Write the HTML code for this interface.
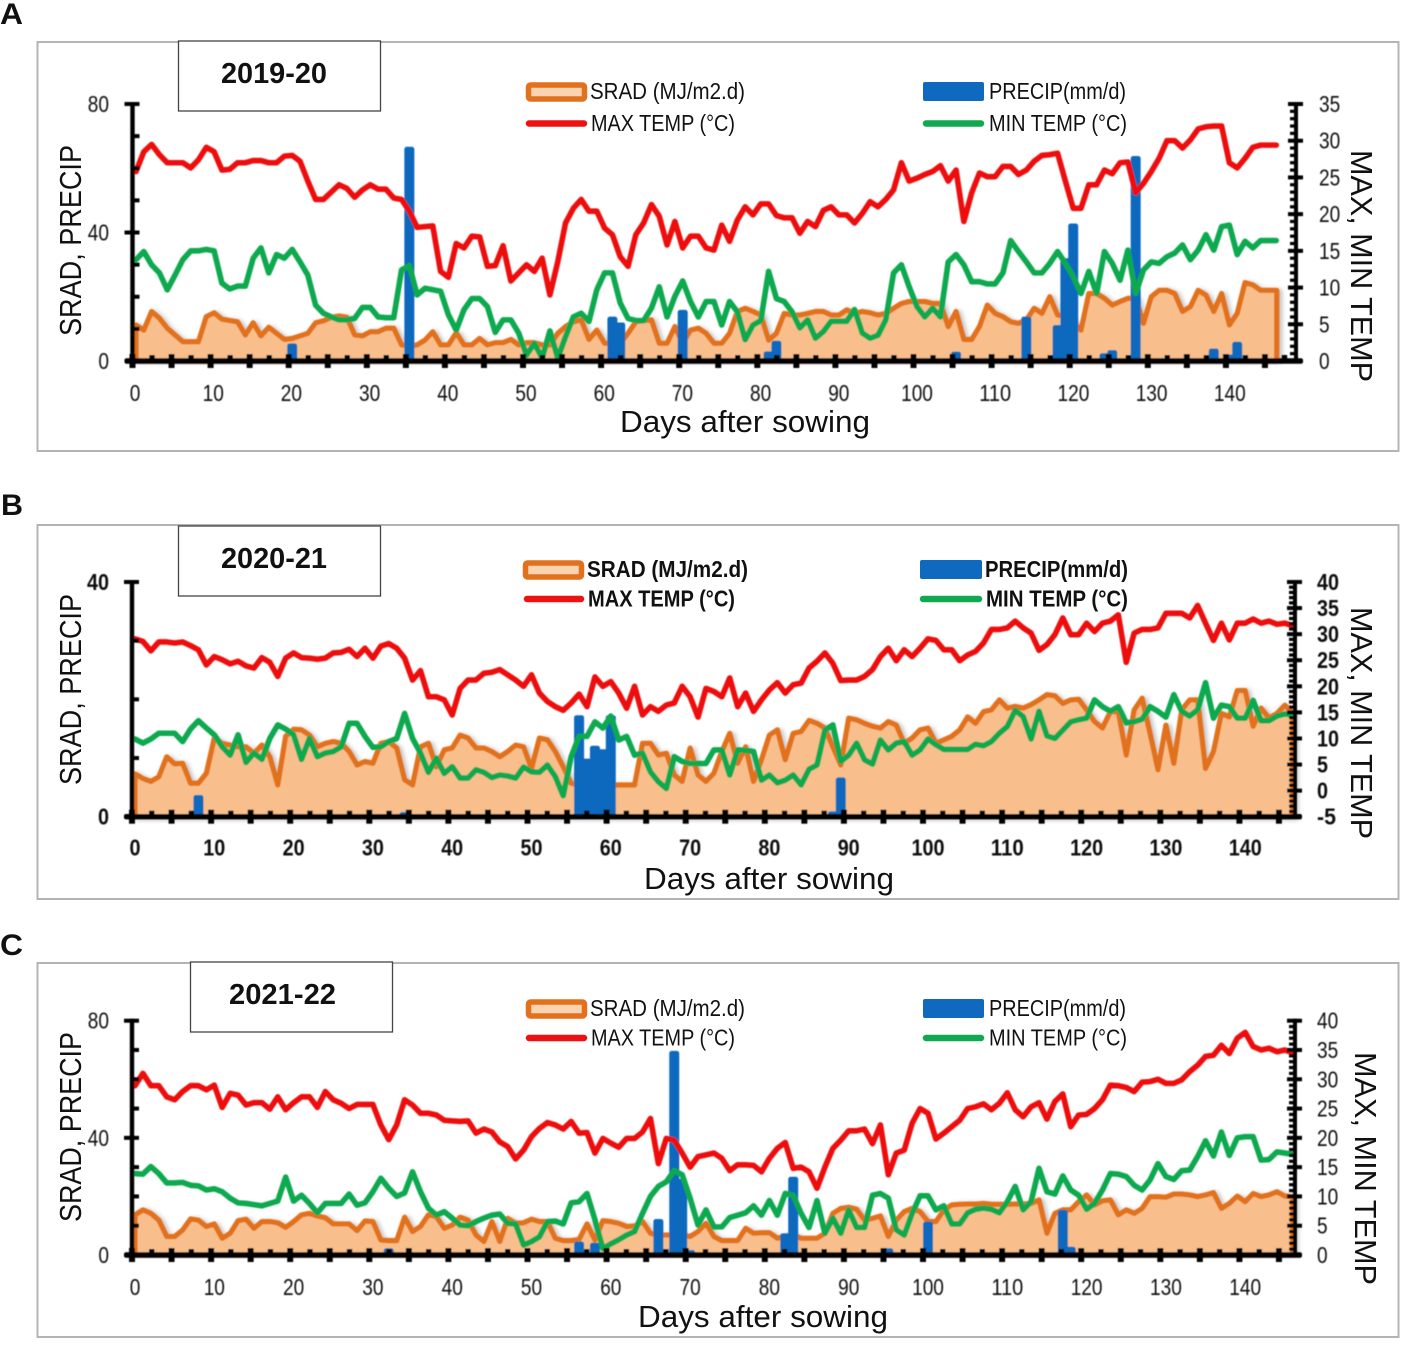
<!DOCTYPE html>
<html lang="en">
<head>
<meta charset="utf-8">
<title>Weather during the growing seasons 2019-22</title>
<style>
html,body{margin:0;padding:0;background:#fff;}
svg{display:block;font-family:"Liberation Sans",Arial,sans-serif;fill:#111;}
</style>
</head>
<body>
<svg id="fig" width="1403" height="1347" viewBox="0 0 1403 1347" xmlns="http://www.w3.org/2000/svg">
<defs>
<filter id="soft" x="-2%" y="-2%" width="104%" height="104%"><feGaussianBlur stdDeviation="0.45"/></filter>
<filter id="areaShadow" x="-2%" y="-5%" width="104%" height="110%"><feDropShadow dx="3" dy="1" stdDeviation="2" flood-color="#555" flood-opacity="0.35"/></filter>
</defs>

<g id="panel-a">
<text x="0" y="24" font-size="30" font-weight="bold" textLength="23" lengthAdjust="spacingAndGlyphs">A</text>
<rect x="37.5" y="42" width="1361" height="409" fill="#fff" stroke="#b4b4b4" stroke-width="2"/>
<g id="plot-a" filter="url(#soft)"></g>
<rect x="178.5" y="41" width="202" height="70" fill="#fff" stroke="#444" stroke-width="1.3"/>
<text x="221" y="83" font-size="29" font-weight="bold" textLength="106" lengthAdjust="spacingAndGlyphs">2019-20</text>
<g>
<rect x="528.5" y="85" width="56" height="14" rx="2" fill="#FAD3B0" stroke="#E2711D" stroke-width="5.5"/>
<text x="590" y="99" font-size="23" textLength="155" lengthAdjust="spacingAndGlyphs">SRAD (MJ/m2.d)</text>
<line x1="529" y1="123.5" x2="584" y2="123.5" stroke="#EE1111" stroke-width="6.5" stroke-linecap="round"/>
<text x="591" y="131" font-size="23" textLength="144" lengthAdjust="spacingAndGlyphs">MAX TEMP (°C)</text>
<rect x="923" y="82" width="61" height="19" rx="2" fill="#0F69BE"/>
<text x="989" y="99" font-size="23" textLength="137" lengthAdjust="spacingAndGlyphs">PRECIP(mm/d)</text>
<line x1="926" y1="123.5" x2="981" y2="123.5" stroke="#10A94F" stroke-width="6.5" stroke-linecap="round"/>
<text x="989" y="131" font-size="23" textLength="138" lengthAdjust="spacingAndGlyphs">MIN TEMP (°C)</text>
</g>
<text transform="translate(81,336) rotate(-90)" font-size="31" textLength="191" lengthAdjust="spacingAndGlyphs">SRAD, PRECIP</text>
<text transform="translate(1351,150) rotate(90)" font-size="31" textLength="232" lengthAdjust="spacingAndGlyphs">MAX, MIN TEMP</text>
<text x="620" y="432" font-size="31" textLength="250" lengthAdjust="spacingAndGlyphs">Days after sowing</text>
</g>

<g id="panel-b">
<text x="1" y="515" font-size="30" font-weight="bold" textLength="22" lengthAdjust="spacingAndGlyphs">B</text>
<rect x="37.5" y="525" width="1361" height="374" fill="#fff" stroke="#b4b4b4" stroke-width="2"/>
<g id="plot-b" filter="url(#soft)"></g>
<rect x="178.5" y="526" width="202" height="70" fill="#fff" stroke="#444" stroke-width="1.3"/>
<text x="221" y="568" font-size="29" font-weight="bold" textLength="106" lengthAdjust="spacingAndGlyphs">2020-21</text>
<g>
<rect x="525.5" y="563" width="56" height="14" rx="2" fill="#FAD3B0" stroke="#E2711D" stroke-width="5.5"/>
<text x="587" y="577" font-size="23" font-weight="bold" textLength="161" lengthAdjust="spacingAndGlyphs">SRAD (MJ/m2.d)</text>
<line x1="527" y1="599" x2="581" y2="599" stroke="#EE1111" stroke-width="6.5" stroke-linecap="round"/>
<text x="588" y="606.5" font-size="23" font-weight="bold" textLength="147" lengthAdjust="spacingAndGlyphs">MAX TEMP (°C)</text>
<rect x="920" y="560" width="62" height="19" rx="2" fill="#0F69BE"/>
<text x="985" y="577" font-size="23" font-weight="bold" textLength="143" lengthAdjust="spacingAndGlyphs">PRECIP(mm/d)</text>
<line x1="923" y1="599" x2="979" y2="599" stroke="#10A94F" stroke-width="6.5" stroke-linecap="round"/>
<text x="986" y="606.5" font-size="23" font-weight="bold" textLength="142" lengthAdjust="spacingAndGlyphs">MIN TEMP (°C)</text>
</g>
<text transform="translate(81,785) rotate(-90)" font-size="31" textLength="191" lengthAdjust="spacingAndGlyphs">SRAD, PRECIP</text>
<text transform="translate(1351,607) rotate(90)" font-size="31" textLength="232" lengthAdjust="spacingAndGlyphs">MAX, MIN TEMP</text>
<text x="644" y="889" font-size="31" textLength="250" lengthAdjust="spacingAndGlyphs">Days after sowing</text>
</g>

<g id="panel-c">
<text x="0" y="955" font-size="30" font-weight="bold" textLength="23" lengthAdjust="spacingAndGlyphs">C</text>
<rect x="37.5" y="963" width="1361" height="374" fill="#fff" stroke="#b4b4b4" stroke-width="2"/>
<g id="plot-c" filter="url(#soft)"></g>
<rect x="190.5" y="962" width="202" height="70" fill="#fff" stroke="#444" stroke-width="1.3"/>
<text x="229" y="1004" font-size="29" font-weight="bold" textLength="107" lengthAdjust="spacingAndGlyphs">2021-22</text>
<g>
<rect x="528.5" y="1002" width="56" height="14" rx="2" fill="#FAD3B0" stroke="#E2711D" stroke-width="5.5"/>
<text x="590" y="1016" font-size="23" textLength="155" lengthAdjust="spacingAndGlyphs">SRAD (MJ/m2.d)</text>
<line x1="529" y1="1038" x2="584" y2="1038" stroke="#EE1111" stroke-width="6.5" stroke-linecap="round"/>
<text x="591" y="1045.5" font-size="23" textLength="144" lengthAdjust="spacingAndGlyphs">MAX TEMP (°C)</text>
<rect x="923" y="999" width="61" height="19" rx="2" fill="#0F69BE"/>
<text x="989" y="1016" font-size="23" textLength="137" lengthAdjust="spacingAndGlyphs">PRECIP(mm/d)</text>
<line x1="926" y1="1038" x2="981" y2="1038" stroke="#10A94F" stroke-width="6.5" stroke-linecap="round"/>
<text x="989" y="1045.5" font-size="23" textLength="138" lengthAdjust="spacingAndGlyphs">MIN TEMP (°C)</text>
</g>
<text transform="translate(81,1222) rotate(-90)" font-size="31" textLength="190" lengthAdjust="spacingAndGlyphs">SRAD, PRECIP</text>
<text transform="translate(1355,1052) rotate(90)" font-size="31" textLength="233" lengthAdjust="spacingAndGlyphs">MAX, MIN TEMP</text>
<text x="638" y="1327" font-size="31" textLength="250" lengthAdjust="spacingAndGlyphs">Days after sowing</text>
</g>
</svg>

<script>
// ---------- shared tick labels ----------
const xTickLabels = [0,10,20,30,40,50,60,70,80,90,100,110,120,130,140];

// ---------- 2019-20 ----------
const sradA = [
11.2,9.6,15.4,13.3,10.2,8.1,6,6,6,13.8,
15,13,12.6,12.2,8.1,11.9,7.8,10.5,8.6,6.7,
7,7.8,8.6,11.9,12.5,13.6,14,13.6,8.1,7.8,
9.1,9.1,10.2,10.2,5,4.7,5,6.5,9.1,5,
5,8.8,5,5,7,5,5.7,5.7,6.7,5,
5.7,5.7,5,5,8.6,10.7,12.2,12.8,6.7,9.6,
5.5,5.5,5.5,8.6,12.2,12.6,12.8,5.5,5.5,10.7,
5.5,9.6,10.2,8.6,5.5,5.5,8.6,15.4,16.4,15.4,
14.3,6.5,8.6,14.8,14.3,14.3,14.8,15.4,15.4,14.3,
14.3,15.9,14.8,15.4,15,14.3,14.8,16.4,17.9,18.5,
18.5,18.5,17.9,17.9,10.7,15.4,6.7,6.7,10.7,17.4,
14.8,13.8,12.2,11.7,12.8,16.4,14.8,20,14.3,14,
12,9.6,21,21,19.5,17.4,18.5,19.5,19.5,11.7,
20,22,22,21,15.4,16.9,22,20.5,15.4,21,
11.2,14.8,24.4,23.7,22,22,22];
const maxTempA = [
25.8,28.5,29.5,28.1,27,27,27,26.3,27.4,29.1,
28.5,26,26.1,27,27,27.3,27.3,27,27,27.9,
28,27.2,24.5,22,22,23,24,23.5,22.3,23.3,
24,23.4,23.4,22.2,22,20.4,18.2,18.3,18.4,12.2,
11.4,16,15.4,17,16.9,12.9,13,15.7,10.9,12,
13.1,12.2,14,9,13.5,18.8,20.8,22,20.4,20.4,
18.1,17.2,14.2,12.9,17.2,18.8,21.3,19.7,15.8,19,
15.4,17,17,15.4,15.1,18.5,16.3,19.2,21,19.9,
21.4,21.4,19.8,19.5,19.5,17.4,19,18.3,20.5,21,
19.9,19.9,18.8,20.1,21.7,21,22,23.3,27,24.5,
24.9,25.4,25.8,26.6,24.5,26,19,22.9,25.6,25.1,
25.1,26.5,26.5,25.4,26,27.2,28,28.1,28.3,24.5,
20.8,20.8,24,24,26,25.5,27,27.1,22.9,24.2,
25.8,27.6,30,30,29,30.1,31.6,31.9,32,32,
27,26.3,27.6,29.1,29.4,29.4,29.4];
const minTempA = [
13.8,14.9,13.1,12,9.7,11.7,13.8,15,15,15.2,
15,10.6,9.8,10.2,10.2,14,15.4,12,14.5,14,
15.2,13.5,11.7,7.6,6.5,6,5.6,5.6,5.8,7.3,
7.3,6,5.9,5.9,12.4,13,9,9.9,9.7,9.5,
6.3,4.2,7,8.5,8.5,7.4,3.9,5.6,5.6,3.8,
0.8,2.4,0.4,4.1,0.4,3.3,6,6.5,5.4,9.7,
12,12,7.9,5.8,5.5,5.5,7.2,10.1,6,8.8,
10.9,8.1,6,8.1,8.1,4.9,8.1,6.7,2.9,4.9,
5.5,12.2,8.5,8.1,6.7,4.5,5.6,3.1,4,5.4,
5.4,5.4,7,3.8,3.1,3.5,5.6,12,13.1,10.1,
7.4,6,7.2,6,13.5,14.5,13.1,10.8,10.8,10.5,
10.5,12,16.4,14.9,13.5,12,12,13.3,14.9,13.3,
11.5,9.2,12.2,9.2,14.9,13.3,11,15.1,9.2,12.4,
13.5,13.3,14.2,14.7,15.8,13.8,15.1,17.2,15.1,18.3,
18.5,14.5,16.3,15.4,16.4,16.4,16.4];
const precipDaysA = [20,35,61,62,70,81,82,105,114,118,119,120,124,125,128,138,140,141];
const precipA = [5.5,66.7,13.8,12,15.9,3,6.3,2.9,13.8,11.2,32,42.8,2.4,3.4,63.8,3.9,2,6];
const leftTicksA = [0,40,80];
const rightTicksA = [0,5,10,15,20,25,30,35];

// ---------- 2020-21 ----------
const sradB = [
7.3,6.5,6,6.8,10.2,9,9.1,5.7,5.7,7.4,
13.4,12.5,12.2,11.9,11.9,10.8,12.2,10.2,5.4,13.7,
14.9,14.8,13.9,11.9,12.5,12.8,12.5,11.1,8.8,9.4,
9.1,12.5,12.8,11.7,6.3,5.4,11.9,12.5,8.5,11.4,
11.7,13.9,13.4,11.7,11.7,11.1,10.2,11.1,12.2,11.9,
8.2,13.4,13.1,11.1,8.5,5.7,5.4,5.4,5.4,5.4,
5.4,5.4,5.4,5.4,12.5,12.5,10.5,10.8,7.1,6,
11.7,7.1,6,7.4,11.1,14.2,9.1,11.9,6,9.7,
13.9,14.8,9.7,14.2,14.5,16.4,15.9,15.1,11.9,8.8,
16.8,16.5,15.9,15.4,15.1,16.2,15.6,12.5,13.4,14.8,
15.1,12.5,13.1,13.7,14.8,17,15.9,17.9,18.2,19.9,
18.5,18.8,18.5,19.1,19.9,20.8,20.6,19.3,19.9,20,
18.2,16.2,15.1,17.9,17.9,10.5,18.2,20.2,14.2,8,
15.6,9.1,18.2,19.9,19.9,8.2,11.1,17.6,17,21.5,
21.5,15.4,18.5,16.8,17.6,19,17.6];
const maxTempB = [
29.1,28.6,26.8,28.5,28.5,28.3,28.5,27.8,27,24.1,
25.7,25.1,24.3,24.8,23.9,23.5,25.5,24.6,21.9,25.4,
26.4,25.5,25.4,25.2,25.4,26.4,26.5,27.1,25.7,27.3,
25.4,27.7,28.2,27.3,25.4,21.2,23,18,18,17.4,
14.5,19.6,21.2,21.2,22.5,22.7,23.2,22.2,21.2,20,
22.2,18.7,17.1,16.1,15.4,16.8,18.5,16.1,21.8,20,
20.9,18.7,15.8,20,14.5,16.1,15.2,16.4,16.8,20,
18,14.1,19.6,19,18,21.6,16.1,18.7,15.2,17.4,
19.3,20.7,18.7,20.3,20.6,23.5,24.8,26.4,24.4,21.1,
21.2,21.2,21.9,23.2,25.7,27.3,24.9,27,25.7,27.3,
29.1,28.8,27,27,24.9,26,26.7,28.3,30.9,30.9,
31.2,32.5,31.2,30.2,26.9,28,29.9,33.1,29.9,29.9,
32.1,30.5,32.1,32.5,33.7,24.6,30.2,30.9,30.9,31.2,
34,34,34,33.1,35.5,32.1,28.8,32.1,28.9,32.1,
32.1,32.9,32.1,32.5,31.9,32.1,31.6];
const minTempB = [
9.9,9.1,9.9,11,11,11,9.4,11.8,13.4,12,
10.7,8.4,6.8,10.7,5.4,7.2,6,10,12.6,11.8,
10.7,6,10,6.5,7.2,7.5,8.4,12.9,12.9,10.4,
8.3,8.4,9.4,10,14.8,10,7.2,3.5,6.2,3.3,
4.6,2.4,2.4,4,3.5,2.5,3,2.8,2.4,4.5,
3.6,3.5,4.9,2.7,-1,6.5,10.4,10.4,13.2,12,
14.3,9.7,10.4,6.8,7.2,3.6,1.7,0.4,6.5,5.6,
5.2,5.2,5.2,7.8,7.8,3,7.8,7.7,7.5,2,
3,1.5,2,3,1.1,4.1,4.9,11.6,12.6,5.6,
6.8,9.1,5.9,5.1,9.7,7.8,9.1,9.4,6.8,7.8,
9.9,8.8,7.9,7.9,7.9,7.9,8.9,8.6,9.4,11,
12.3,15.4,14.2,9.9,15.2,10.5,10,11.6,13.2,13.6,
13.9,17.4,16.1,15.2,16.1,13,13.2,13.7,16.1,15.2,
14.1,18.4,15.2,14.3,15.5,20.7,13.9,16.4,16.1,13.9,
13.9,17.3,13.4,13.4,14.3,14.7,14.5];
const precipDaysB = [8,34,56,57,58,59,60,88,89];
const precipB = [3.7,0.8,17.3,9.9,12.1,11.5,17.3,0.9,6.7];
const leftTicksB = [0,40];
const rightTicksB = [-5,0,5,10,15,20,25,30,35,40];

// ---------- 2021-22 ----------
const sradC = [
13.7,15.4,14.2,11.9,6.3,6.3,8.5,12.3,11.9,9.7,
10.6,5.7,7.4,11.7,12.2,9.1,11.4,11.4,11,9.4,
11.4,13.7,14.2,13.3,12.7,10.6,10.6,10.6,8.3,11.6,
11.4,5.1,4.9,4.9,12.9,8,9.7,13.7,13.1,9.1,
10.2,12.9,11.9,6.8,4.6,11.4,4.6,12.5,10.8,11,
12.2,11.4,11.4,5.7,4.9,4.9,5.3,10.6,5.1,11.7,
11.4,10.8,9.7,9.9,11.4,7.4,6.8,6.8,6.8,6.8,
6.3,8,10.8,6.3,4.9,4.9,4.9,9.1,7.4,7.6,
7.6,5.7,6.5,6.8,5.7,5.7,5.7,7.4,14.2,15.9,
16.3,15.6,11.9,12.5,13.3,6.3,11.9,14.8,15.9,14.8,
11.4,11.4,15.4,17.1,17.3,17.4,17.4,17.6,17.3,17.3,
17.3,17.4,17.4,17.6,18.8,7.4,14.2,15.4,15.4,18.2,
20.5,17.1,18.5,18.8,13.7,15.4,14.2,15.9,19.9,19.9,
19.7,20.8,20.8,20.5,19.9,20.5,21.3,15.9,17.6,20.1,
18.2,21,19.9,20.5,21.6,20.1,19.9];
const maxTempC = [
28.9,31,28.9,28.9,27,26.5,27.9,28.9,28.9,28.2,
29,25.2,27.6,27.3,25.6,26,26,24.9,27,24.8,
26,27,27,25.2,27.9,26.5,25.9,25,25.7,25.7,
25.7,22.2,19.7,22.2,26.5,25.6,24.2,24.2,23.9,23,
22.9,22.8,22.9,20.8,21.5,21,19.3,18.5,16.4,17.9,
20.2,21.6,22.6,22.2,21.5,22.8,20.8,20.9,17.4,19.9,
19.1,18.4,19.9,19.9,21,23.3,15.6,19.9,19.6,17.4,
15,16.8,17.1,17.4,16.5,14.4,15.4,15.4,15.3,14.2,
16.5,18.2,19.2,14.8,15,14.2,11.4,15,18.2,19.6,
21.2,21.2,21.5,19,22.2,13.7,17.4,17.9,22.5,25,
24.2,19.8,20.8,21.9,23,25,25.3,25.8,24.8,25.9,
27.7,24.8,23.6,25.3,26,23.2,26.2,27.5,21.9,23.9,
24,25,26.5,29,28.9,28.6,27.9,29.5,29.6,30,
29.3,29.3,29.9,31.3,32.4,33.9,34.1,35.8,34.4,37,
38,35.6,35,35.3,34.7,35,34.5];
const minTempC = [
13.9,13.8,15.1,13.9,12.3,12.3,12.4,11.9,11.8,11.1,
11.3,10.8,9.7,8.9,8.8,8.6,8.4,8.8,9.2,13.3,
9.2,10.2,8.8,7.2,8.8,8.8,8.8,10.4,8.5,8.9,
10.8,13.1,11.4,10,10.6,14.2,10.8,8,6.8,7.4,
6.3,5.1,5,5.7,6.3,6.8,7,5.4,5.3,1.7,
2.3,3.1,5.7,5.8,5.3,8.9,9.1,10.5,6,1.1,
1.9,2.6,3.4,4,7.1,10,11.7,12.5,14.4,13.7,
9.7,5.1,7.7,4.8,4.8,6.4,6.8,7.2,8.4,6.8,
9.3,6.8,10.5,10.2,7.1,4.7,9.3,3.7,6.3,3.7,
7.7,4.7,4.7,10.2,10.5,9.7,4.3,3.4,7.1,10.1,
10.1,7.7,8.4,5.3,5.3,7.2,7.8,8,7.8,7.2,
9.1,11.7,7.7,9.1,14.8,10.8,10.4,13.5,11.1,10.2,
7.8,8.8,11.1,13.9,13.8,13.4,11.9,11.1,12.8,15.6,
13.4,12.9,14.4,14.5,16.8,19.5,16.9,21,17,20,
20.2,20.2,16.2,16.3,17.6,17.4,17.2];
const precipDaysC = [32,56,58,66,68,69,70,82,83,95,100,117,118];
const precipC = [2.3,4.6,4.2,12.3,69.7,26,1.7,7.4,26.7,2.3,11.4,15.4,2.8];
const leftTicksC = [0,40,80];
const rightTicksC = [0,5,10,15,20,25,30,35,40];

const NS = 'http://www.w3.org/2000/svg';
function mk(parent, tag, attrs, txt) {
  const el = document.createElementNS(NS, tag);
  for (const k in attrs) el.setAttribute(k, attrs[k]);
  if (txt !== undefined) el.textContent = txt;
  parent.appendChild(el);
  return el;
}

function drawPanel(id, geo, srad, maxTemp, minTemp, precipDays, precip, leftTicks, rightTicks, bold) {
  const g = document.getElementById(id);
  const leftMax = leftTicks[leftTicks.length - 1];
  const rightMin = rightTicks[0];
  const rightMax = rightTicks[rightTicks.length - 1];
  const plotH = geo.y0 - geo.yTop;
  const x = d => geo.x0 + geo.dx * d;
  const yL = v => geo.y0 - v / leftMax * plotH;
  const yR = v => geo.y0 - (v - rightMin) / (rightMax - rightMin) * plotH;
  const weight = bold ? 'bold' : 'normal';
  const digitWidth = bold ? 11 : 10.6;
  const labelAttrs = v => ({'font-size': 23, 'font-weight': weight, textLength: String(v).length * digitWidth - (v < 0 ? 3 : 0), lengthAdjust: 'spacingAndGlyphs'});

  // SRAD area
  const last = srad.length - 1;
  let areaPts = x(0) + ',' + yL(0) + ' ';
  srad.forEach((v, i) => { areaPts += x(i) + ',' + yL(v) + ' '; });
  areaPts += (x(last) + geo.areaTail) + ',' + yL(srad[last]) + ' ' + (x(last) + geo.areaTail) + ',' + yL(0);
  const area = mk(g, 'polygon', {points: areaPts, fill: '#F8BF8C', stroke: '#E2711D', 'stroke-width': 5.2, 'stroke-linejoin': 'round', filter: 'url(#areaShadow)'});
  
  

  // Precipitation bars
  precipDays.forEach((d, i) => {
    const top = yL(precip[i]);
    const bar = mk(g, 'rect', {x: x(d) - 5, y: top, width: 10, height: geo.y0 - top + 1, rx: 2.5, fill: '#0F69BE'});
    
    
  });

  // Temperature lines
  const linePts = arr => arr.map((v, i) => x(i) + ',' + yR(v)).join(' ');
  const minLine = mk(g, 'polyline', {points: linePts(minTemp), fill: 'none', stroke: '#10A94F', 'stroke-width': 5.6, 'stroke-linejoin': 'round', 'stroke-linecap': 'round'});
  
  
  const maxLine = mk(g, 'polyline', {points: linePts(maxTemp), fill: 'none', stroke: '#EE1111', 'stroke-width': 5.6, 'stroke-linejoin': 'round', 'stroke-linecap': 'round'});
  
  
  if (id !== 'plot-a') {
    g.insertBefore(maxLine, minLine);
  }

  // Axes
  const axes = mk(g, 'g', {fill: '#000', stroke: '#000'});
  
  
  const leftAxis = mk(axes, 'line', {x1: geo.axL, y1: geo.yTop - 2, x2: geo.axL, y2: geo.y0 + 2, 'stroke-width': 4.4});
  
  
  const rightAxis = mk(axes, 'line', {x1: geo.axR, y1: geo.yTop - 2, x2: geo.axR, y2: geo.y0 + 2, 'stroke-width': 4});
  
  
  const bottomAxis = mk(axes, 'line', {x1: geo.axL - 7, y1: geo.y0, x2: geo.axR + 6, y2: geo.y0, 'stroke-width': 5.4});
  
  

  // X ticks (major every 5 days, minor half-way between)
  const xEnd = (geo.axR - geo.axL - 6) / geo.tickDx;
  for (let d = 0; d <= xEnd; d += 2.5) {
    const tx = geo.axL + geo.tickDx * d;
    const major = d % 5 === 0;
    mk(axes, 'line', {x1: tx, y1: major ? geo.y0 - 7 : geo.y0 - 6, x2: tx, y2: major ? geo.y0 + 7 : geo.y0, 'stroke-width': major ? 6 : 5.4});
  }
  xTickLabels.forEach(v => {
    const t = mk(g, 'text', Object.assign({x: geo.labelX0 + geo.labelDx * v, y: geo.y0 + geo.labelOffset, 'text-anchor': 'middle'}, labelAttrs(v)), v);
    
    
  });

  // Left ticks
  for (let v = 0; v <= leftMax; v += 10) {
    const major = leftTicks.includes(v);
    mk(axes, 'line', {x1: major ? geo.axL - 8 : geo.axL, y1: yL(v), x2: geo.axL + 7, y2: yL(v), 'stroke-width': 4});
  }
  leftTicks.forEach(v => {
    const t = mk(g, 'text', Object.assign({x: 109, y: yL(v) + 8, 'text-anchor': 'end'}, labelAttrs(v)), v);
    
    
  });

  // Right ticks
  for (let v = rightMin; v <= rightMax; v += 1) {
    const major = rightTicks.includes(v);
    mk(axes, 'line', {x1: geo.axR - (major ? 8 : 6), y1: yR(v), x2: major ? geo.axR + 7 : geo.axR, y2: yR(v), 'stroke-width': major ? 4 : 3.2});
  }
  rightTicks.forEach(v => {
    const t = mk(g, 'text', Object.assign({x: geo.rightLabelX, y: yR(v) + 8}, labelAttrs(v)), v);
    
    
  });
}

drawPanel('plot-a',
  {x0: 136, dx: 7.81, y0: 361, yTop: 104, axL: 132.5, axR: 1296, tickDx: 7.81, labelX0: 135, labelDx: 7.82, labelOffset: 40, rightLabelX: 1319, areaTail: 0.5},
  sradA, maxTempA, minTempA, precipDaysA, precipA, leftTicksA, rightTicksA, false);

drawPanel('plot-b',
  {x0: 135, dx: 7.93, y0: 816.7, yTop: 582, axL: 132, axR: 1295, tickDx: 7.91, labelX0: 135, labelDx: 7.93, labelOffset: 39, rightLabelX: 1317, areaTail: 0},
  sradB, maxTempB, minTempB, precipDaysB, precipB, leftTicksB, rightTicksB, true);

drawPanel('plot-c',
  {x0: 135, dx: 7.93, y0: 1255, yTop: 1020.7, axL: 132, axR: 1295, tickDx: 7.91, labelX0: 135, labelDx: 7.93, labelOffset: 40, rightLabelX: 1317, areaTail: 0},
  sradC, maxTempC, minTempC, precipDaysC, precipC, leftTicksC, rightTicksC, false);
</script>
</body>
</html>
